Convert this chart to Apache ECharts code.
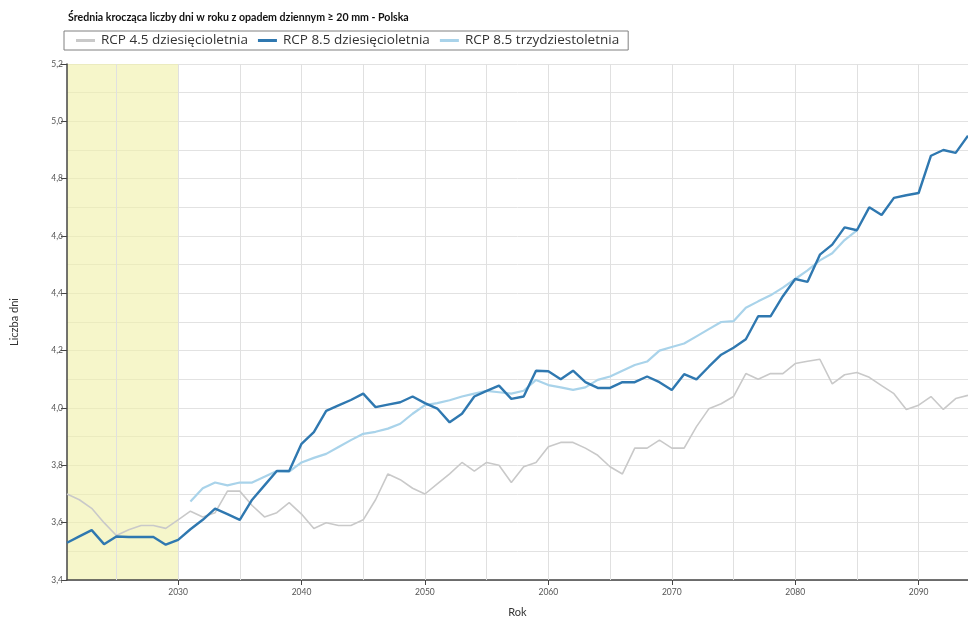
<!DOCTYPE html>
<html>
<head>
<meta charset="utf-8">
<script src="https://cdn.jsdelivr.net/npm/echarts@6/dist/echarts.min.js"></script>
<style>html,body{margin:0;padding:0;background:#fff}#c{width:968px;height:623px}</style>
</head>
<body>
<div id="c"></div>
<script>
const startYear = 2021;
const endYear = 2094;
const start30 = 2031;
const decadeTicks = [2030, 2040, 2050, 2060, 2070, 2080, 2090];
const gridYears = [2025, 2030, 2035, 2040, 2045, 2050, 2055, 2060, 2065, 2070, 2075, 2080, 2085, 2090];
const yTicks = [3.4, 3.6, 3.8, 4.0, 4.2, 4.4, 4.6, 4.8, 5.0, 5.2];
const seriesNames = ['RCP 4.5 dziesięcioletnia', 'RCP 8.5 dziesięcioletnia', 'RCP 8.5 trzydziestoletnia'];

const rcp45_10 = [3.70, 3.68, 3.65, 3.60, 3.555, 3.575, 3.59, 3.59, 3.58, 3.61,
  3.64, 3.62, 3.635, 3.71, 3.71, 3.66, 3.62, 3.635, 3.67, 3.63,
  3.58, 3.60, 3.59, 3.59, 3.61, 3.68, 3.77, 3.75, 3.72, 3.70,
  3.735, 3.77, 3.81, 3.78, 3.81, 3.80, 3.74, 3.795, 3.81, 3.865,
  3.88, 3.88, 3.86, 3.835, 3.795, 3.77, 3.86, 3.86, 3.888, 3.86,
  3.86, 3.935, 3.997, 4.015, 4.04, 4.12, 4.10, 4.12, 4.12, 4.155,
  4.163, 4.17, 4.084, 4.116, 4.124, 4.107, 4.078, 4.05, 3.995, 4.01,
  4.04, 3.995, 4.033, 4.044];

const rcp85_10 = [3.53, 3.552, 3.574, 3.525, 3.552, 3.55, 3.55, 3.55, 3.523, 3.54,
  3.577, 3.61, 3.649, 3.63, 3.61, 3.68, 3.73, 3.78, 3.78, 3.875,
  3.916, 3.99, 4.009, 4.028, 4.05, 4.003, 4.012, 4.02, 4.04, 4.017,
  3.998, 3.95, 3.98, 4.04, 4.06, 4.078, 4.032, 4.04, 4.13, 4.128,
  4.10, 4.13, 4.09, 4.07, 4.07, 4.09, 4.09, 4.11, 4.09, 4.063,
  4.118, 4.10, 4.144, 4.186, 4.21, 4.24, 4.32, 4.32, 4.39, 4.45,
  4.44, 4.535, 4.57, 4.63, 4.62, 4.70, 4.673, 4.733, 4.742, 4.75,
  4.88, 4.90, 4.89, 4.95];

const rcp85_30 = [3.674, 3.72, 3.74, 3.73, 3.74, 3.74, 3.76, 3.78, 3.778, 3.81,
  3.826, 3.84, 3.864, 3.888, 3.91, 3.917, 3.928, 3.945, 3.98, 4.01,
  4.017, 4.027, 4.04, 4.05, 4.06, 4.055, 4.05, 4.06, 4.098, 4.08,
  4.072, 4.063, 4.072, 4.098, 4.11, 4.13, 4.15, 4.162, 4.2, 4.213,
  4.225, 4.25, 4.275, 4.30, 4.303, 4.35, 4.372, 4.393, 4.42, 4.45,
  4.48, 4.515, 4.54, 4.586, 4.62];

const toPairs = (arr, y0) => arr.map((v, i) => [y0 + i, v]);

const chart = echarts.init(document.getElementById('c'), null, {renderer: 'canvas'});
const font = 'Lato, "Open Sans", sans-serif';
const legendFont = '"Open Sans", Lato, sans-serif';
chart.setOption({
  animation: false,
  backgroundColor: '#fff',
  title: {
    text: 'Średnia krocząca liczby dni w roku z opadem dziennym ≥ 20 mm - Polska',
    left: 63, top: 7,
    textStyle: {fontSize: 10.6, fontWeight: 'bold', color: '#111', fontFamily: font}
  },
  legend: {
    left: 64, top: 31,
    data: seriesNames,
    icon: 'rect', itemWidth: 19, itemHeight: 3, itemGap: 10,
    borderColor: '#808080', borderWidth: 1, borderRadius: 0,
    padding: [2, 9, 2, 12],
    textStyle: {fontSize: 13.5, lineHeight: 15, color: '#333', fontFamily: legendFont, padding: [0, 0, 0, 1]}
  },
  grid: {left: 67, right: 0, top: 64, bottom: 39},
  xAxis: {
    type: 'value', min: startYear, max: endYear,
    name: 'Rok', nameLocation: 'middle', nameGap: 27,
    nameTextStyle: {fontSize: 11, color: '#333', fontFamily: font},
    axisLine: {lineStyle: {color: '#444', width: 1.5}},
    axisTick: {show: true, customValues: decadeTicks, length: 5, lineStyle: {color: '#444'}},
    axisLabel: {customValues: decadeTicks, fontSize: 8.5, color: '#555', fontFamily: font, margin: 8,
      formatter: v => String(v)},
    splitLine: {show: false}
  },
  yAxis: {
    type: 'value', min: 3.4, max: 5.2, interval: 0.2,
    name: 'Liczba dni', nameLocation: 'middle', nameGap: 47,
    nameTextStyle: {fontSize: 11, color: '#333', fontFamily: font},
    axisLine: {show: true, lineStyle: {color: '#444', width: 1.5}},
    axisTick: {show: true, length: 6, lineStyle: {color: '#444'}},
    axisLabel: {fontSize: 8.5, color: '#555', fontFamily: font, margin: 4,
      formatter: v => v.toFixed(1).replace('.', ',')},
    splitLine: {show: true, lineStyle: {color: '#e2e2e2', width: 1}},
    minorTick: {show: false, splitNumber: 2},
    minorSplitLine: {show: true, lineStyle: {color: '#e2e2e2', width: 1}}
  },
  series: [
    {
      name: 'band', type: 'line', data: [], z: 0, silent: true,
      markArea: {silent: true, z: 0, itemStyle: {color: 'rgba(240,240,170,0.62)'},
        data: [[{xAxis: startYear}, {xAxis: 2030}]]}
    },
    {
      name: 'vgrid', type: 'line', data: [], z: 1, silent: true,
      markLine: {silent: true, z: 1, symbol: ['none', 'none'], label: {show: false},
        lineStyle: {color: '#e0e0e0', width: 1, type: 'solid'},
        data: gridYears.map(y => ({xAxis: y}))}
    },
    {
      name: seriesNames[0], type: 'line', data: toPairs(rcp45_10, startYear), z: 3,
      showSymbol: false, lineStyle: {color: '#c9c9c9', width: 1.6}, itemStyle: {color: '#c9c9c9'}
    },
    {
      name: seriesNames[2], type: 'line', data: toPairs(rcp85_30, start30), z: 4,
      showSymbol: false, lineStyle: {color: '#a9d3ea', width: 2.2}, itemStyle: {color: '#a9d3ea'}
    },
    {
      name: seriesNames[1], type: 'line', data: toPairs(rcp85_10, startYear), z: 5,
      showSymbol: false, lineStyle: {color: '#2f78b0', width: 2.4}, itemStyle: {color: '#2f78b0'}
    }
  ]
});
</script>
</body>
</html>
